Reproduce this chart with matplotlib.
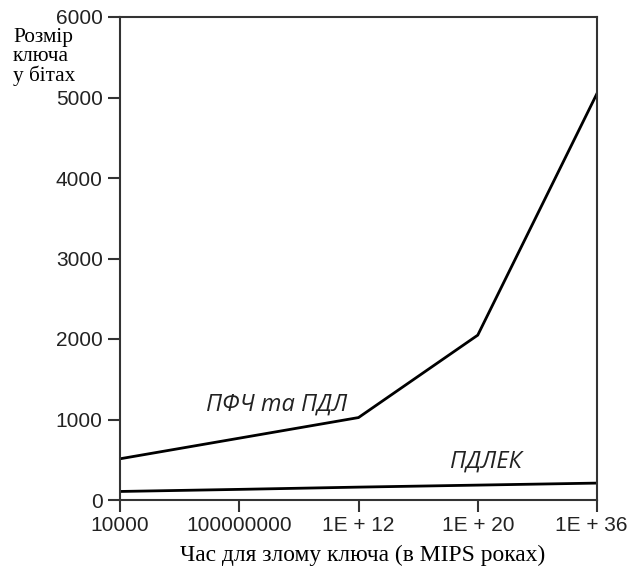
import matplotlib
matplotlib.use("Agg")
import matplotlib.pyplot as plt
import matplotlib.transforms as mtrans

# час злому ключа (MIPS роки) та розмір ключа в бітах
x_labels = ["10000", "100000000", "1E + 12", "1E + 20", "1E + 36"]
pfch_pdl = [512, 768, 1024, 2048, 5050]
pdlek = [106, 132, 160, 185, 210]

fig = plt.figure(figsize=(6.31, 5.66), dpi=100)
ax = fig.add_axes([120 / 631, 1 - 500 / 566, 477 / 631, 483 / 566])

xs = list(range(len(x_labels)))
ax.plot(xs, pfch_pdl, color="black", linewidth=2.0, solid_joinstyle="miter")
ax.plot(xs, pdlek, color="black", linewidth=2.0)

ax.set_xlim(0, len(x_labels) - 1)
ax.set_ylim(0, 6000)
ax.set_xticks(xs)
ax.set_xticklabels(x_labels)
ax.set_yticks(range(0, 6001, 1000))

for s in ax.spines.values():
    s.set_linewidth(1.5)
    s.set_color("#333333")
ax.tick_params(direction="out", length=8.5, width=1.5, color="#333333",
               labelsize=15)
ax.tick_params(axis="y", pad=4)
ax.tick_params(axis="x", pad=3)
for lab in ax.get_xticklabels() + ax.get_yticklabels():
    lab.set_family(["Liberation Sans", "DejaVu Sans"])
    lab.set_color("#222222")

# last label sits a bit left so it fits in the picture
last = ax.get_xticklabels()[-1]
last.set_transform(last.get_transform()
                   + mtrans.ScaledTranslation(-6 / 100, 0, fig.dpi_scale_trans))

ax.text(1.31, 1180, "ПФЧ та ПДЛ", style="italic", fontsize=17,
        family=["Open Sans", "DejaVu Sans"], color="#222222",
        ha="center", va="center")
ax.text(3.07, 472, "ПДЛЕК", style="italic", fontsize=17,
        family=["Open Sans", "DejaVu Sans"], color="#222222",
        ha="center", va="center")

fig.text(13 / 631, 1 - 28 / 566, "Розмір\nключа\nу бітах", fontsize=15.3,
         family=["Liberation Serif", "DejaVu Serif"], ha="left", va="top",
         linespacing=0.98)
fig.text(363 / 631, 1 - 555 / 566, "Час для злому ключа (в MIPS роках)",
         fontsize=16.9, family=["Liberation Serif", "DejaVu Serif"],
         ha="center", va="center")

fig.savefig("out.png", dpi=100)
